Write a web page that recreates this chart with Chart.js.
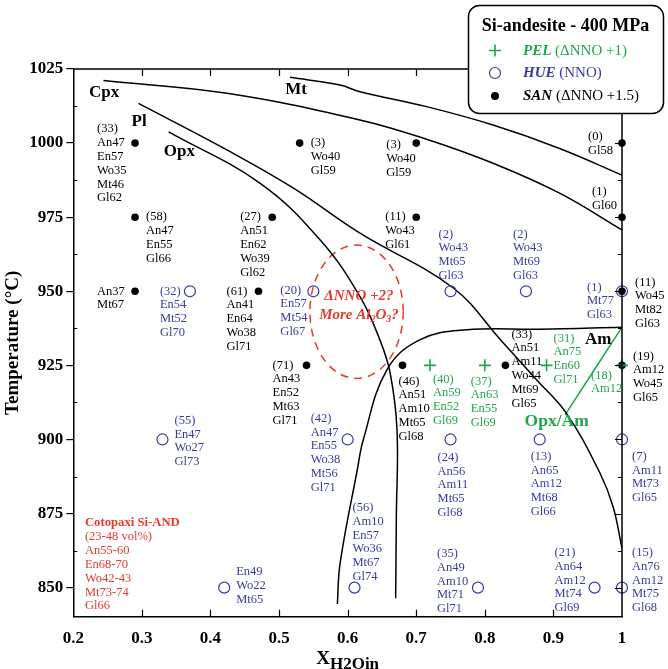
<!DOCTYPE html>
<html><head><meta charset="utf-8">
<script src="https://cdn.jsdelivr.net/npm/chart.js@4.4.1/dist/chart.umd.min.js"></script>
<style>html,body{margin:0;padding:0;background:#fff}canvas{display:block}</style>
</head><body>
<canvas id="c" width="668" height="669"></canvas>
<script>
// ---------------- data ----------------
const xTicks = [0.2, 0.3, 0.4, 0.5, 0.6, 0.7, 0.8, 0.9, 1.0];
const xTickLabels = ['0.2','0.3','0.4','0.5','0.6','0.7','0.8','0.9','1'];
const yTicks = [850, 875, 900, 925, 950, 975, 1000, 1025];
const yTickLabels = ['850','875','900','925','950','975','1000','1025'];
const yMinorTicks = [862.5, 887.5, 912.5, 937.5, 962.5, 987.5, 1012.5];

// SAN (ΔNNO +1.5) – filled dots
const sanX = [0.29, 0.29, 0.29, 0.53, 0.70, 0.49, 0.70, 0.47, 0.54, 0.68, 0.83, 1.0, 1.0, 1.0, 1.0];
const sanT = [1000, 975, 950, 1000, 1000, 975, 975, 950, 925, 925, 925, 1000, 975, 950, 925];
const sanText = [
  ['(33)','An47','En57','Wo35','Mt46','Gl62'],
  ['(58)','An47','En55','Gl66'],
  ['An37','Mt67'],
  ['(3)','Wo40','Gl59'],
  ['(3)','Wo40','Gl59'],
  ['(27)','An51','En62','Wo39','Gl62'],
  ['(11)','Wo43','Gl61'],
  ['(61)','An41','En64','Wo38','Gl71'],
  ['(71)','An43','En52','Mt63','Gl71'],
  ['(46)','An51','Am10','Mt65','Gl68'],
  ['(33)','An51','Am11','Wo44','Mt69','Gl65'],
  ['(0)','Gl58'],
  ['(1)','Gl60'],
  ['(11)','Wo45','Mt82','Gl63'],
  ['(19)','Am12','Wo45','Gl65']
];

// HUE (NNO) – open circles
const hueX = [0.37, 0.55, 0.33, 0.60, 0.75, 0.86, 1.0, 0.75, 0.88, 1.0, 0.61, 0.79, 0.42, 0.96, 1.0];
const hueT = [950, 950, 900, 900, 950, 950, 950, 900, 900, 900, 850, 850, 850, 850, 850];
const hueText = [
  ['(32)','En54','Mt52','Gl70'],
  ['(20)','En57','Mt54','Gl67'],
  ['(55)','En47','Wo27','Gl73'],
  ['(42)','An47','En55','Wo38','Mt56','Gl71'],
  ['(2)','Wo43','Mt65','Gl63'],
  ['(2)','Wo43','Mt69','Gl63'],
  ['(1)','Mt77','Gl63'],
  ['(24)','An56','Am11','Mt65','Gl68'],
  ['(13)','An65','Am12','Mt68','Gl66'],
  ['(7)','Am11','Mt73','Gl65'],
  ['(56)','Am10','En57','Wo36','Mt67','Gl74'],
  ['(35)','An49','Am10','Mt71','Gl71'],
  ['En49','Wo22','Mt65'],
  ['(21)','An64','Am12','Mt74','Gl69'],
  ['(15)','An76','Am12','Mt75','Gl68']
];

// PEL (ΔNNO +1) – plus signs
const pelX = [0.72, 0.80, 0.89, 1.0];
const pelT = [925, 925, 925, 925];
const pelText = [
  ['(40)','An59','En52','Gl69'],
  ['(37)','An63','En55','Gl69'],
  ['(31)','An75','En60','Gl71'],
  ['(18)','Am12']
];

// phase boundary curves
const mtX  = [0.516, 0.589, 0.618, 0.715, 0.812, 0.909, 1.0];
const mtT  = [1022.2, 1019.6, 1017.3, 1012.3, 1006.1, 998.2, 989.2];
const cpxX = [0.244, 0.424, 0.618, 0.715, 0.812, 0.909, 1.0];
const cpxT = [1021.1, 1016.8, 1007.8, 1001.3, 993.2, 983.1, 970.7];
const plX  = [0.295, 0.424, 0.521, 0.618, 0.754, 0.823, 0.876, 0.919, 0.968, 0.987, 1.0];
const plT  = [1013.4, 997.7, 984.8, 969.6, 951.1, 933.6, 920.0, 908.8, 888.6, 877.3, 863.3];
const opxX = [0.339, 0.472, 0.560, 0.618, 0.647, 0.662, 0.672, 0.671, 0.670];
const opxT = [1003.8, 986.5, 967.3, 948.2, 933.6, 922.4, 903.2, 874.0, 846.4];
const amX  = [0.585, 0.589, 0.614, 0.623, 0.657, 0.705, 0.774, 0.880, 1.0];
const amT  = [844.5, 858.2, 889.7, 900.1, 923.4, 933.6, 937.0, 937.2, 937.9];
const opxAmX = [1.0, 0.917];
const opxAmT = [937.9, 908.3];

// phase field labels
const phaseText = ['Cpx', 'Pl', 'Opx', 'Mt', 'Am'];
const phaseX    = [0.223, 0.285, 0.332, 0.509, 0.946];
const phaseT    = [1017.1, 1007.2, 997.1, 1018.2, 933.6];

// red ellipse (uncertain field)
const ellipseCenter = [0.613, 943.1];
const ellipseRadius = [0.068, 22.5];

const cotopaxiText = ['Cotopaxi Si-AND', '(23-48 vol%)', 'An55-60', 'En68-70', 'Wo42-43', 'Mt73-74', 'Gl66'];

// ---------------- layout / style (separate from data) ----------------
const sanPlace = [[-38,-14],[11,0],[-38,0],[11,0],[-30,2],[-32,0],[-31,0],[-32,0],[-34,0],[-4,16],[6,-31],[-34,-6],[-30,-25],[13,-9],[11,-9]];
const huePlace = [[-30,0],[-33,-1],[12,-19],[-37,-21],[-12,-57],[-13,-57],[-35,-4],[-13,18],[-9,17],[10,17],[-2,-80],[-41,-34],[12,-16],[-40,-35],[10,-35]];
const pelPlace = [[3,14],[-14,16],[7,-27],[-31,10]];

const BLUE = '#3b3b9f', GREEN = '#1fa64a', RED = '#e83a2e', BLACK = '#000';
const SERIF = '"Liberation Serif", "Times New Roman", serif';
const LH = 13.8;

const pts = (xs, ys) => xs.map((x, i) => ({x, y: ys[i]}));
const tickLabel = (vals, labels) => (v) => { const i = vals.findIndex(t => Math.abs(t - v) < 1e-6); return i >= 0 ? labels[i] : ''; };

function drawRuns(ctx, x, y, runs) {
  let cx = x;
  runs.forEach(r => {
    ctx.font = r.font; ctx.fillStyle = r.color;
    ctx.fillText(r.text, cx, y + (r.dy || 0));
    cx += ctx.measureText(r.text).width;
  });
  return cx - x;
}
function runsWidth(ctx, runs) {
  let w = 0;
  runs.forEach(r => { ctx.font = r.font; w += ctx.measureText(r.text).width; });
  return w;
}

const decor = {
  id: 'decor',
  beforeDatasetsDraw(chart) {
    const {ctx, scales: {x, y}} = chart;
    const cx = x.getPixelForValue(ellipseCenter[0]), cy = y.getPixelForValue(ellipseCenter[1]);
    const rx = x.getPixelForValue(ellipseCenter[0] + ellipseRadius[0]) - cx;
    const ry = cy - y.getPixelForValue(ellipseCenter[1] + ellipseRadius[1]);
    ctx.save();
    ctx.strokeStyle = RED; ctx.lineWidth = 1.5; ctx.setLineDash([8, 6]);
    ctx.beginPath(); ctx.ellipse(cx, cy, rx, ry, 0, 0, Math.PI * 2); ctx.stroke();
    ctx.restore();
  },
  afterDatasetsDraw(chart) {
    const {ctx, chartArea: a, scales: {x, y}} = chart;
    ctx.save();
    // frame top & right
    ctx.strokeStyle = BLACK; ctx.lineWidth = 1.5;
    ctx.beginPath();
    ctx.moveTo(a.left, a.top); ctx.lineTo(a.right, a.top); ctx.lineTo(a.right, a.bottom);
    ctx.stroke();
    // inward ticks
    ctx.lineWidth = 1.2;
    ctx.beginPath();
    xTicks.slice(1, -1).forEach(v => {
      const px = Math.round(x.getPixelForValue(v)) + 0.5;
      ctx.moveTo(px, a.bottom); ctx.lineTo(px, a.bottom - 7);
      ctx.moveTo(px, a.top); ctx.lineTo(px, a.top + 7);
    });
    yTicks.forEach(v => {
      const py = Math.round(y.getPixelForValue(v)) + 0.5;
      ctx.moveTo(a.right, py); ctx.lineTo(a.right - 7, py);
    });
    yMinorTicks.forEach(v => {
      const py = Math.round(y.getPixelForValue(v)) + 0.5;
      ctx.moveTo(a.right, py); ctx.lineTo(a.right - 4, py);
      ctx.moveTo(a.left, py); ctx.lineTo(a.left + 4, py);
    });
    ctx.stroke();

    // point labels
    ctx.textBaseline = 'middle'; ctx.textAlign = 'left';
    const lab = (xs, ts, texts, place, color) => {
      ctx.font = '12.5px ' + SERIF; ctx.fillStyle = color;
      xs.forEach((xv, i) => {
        const px = x.getPixelForValue(xv), py = y.getPixelForValue(ts[i]);
        texts[i].forEach((t, k) => ctx.fillText(t, px + place[i][0], py + place[i][1] + k * LH));
      });
    };
    lab(sanX, sanT, sanText, sanPlace, BLACK);
    lab(hueX, hueT, hueText, huePlace, BLUE);
    lab(pelX, pelT, pelText, pelPlace, GREEN);

    // phase labels
    ctx.font = 'bold 17px ' + SERIF; ctx.fillStyle = BLACK;
    phaseText.forEach((t, i) => ctx.fillText(t, x.getPixelForValue(phaseX[i]), y.getPixelForValue(phaseT[i])));
    ctx.font = 'bold 17.5px ' + SERIF; ctx.fillStyle = GREEN;
    ctx.fillText('Opx/Am', x.getPixelForValue(0.858), y.getPixelForValue(906.0));

    // ellipse text
    const bi = 'italic bold 15px ' + SERIF, bis = 'italic bold 10px ' + SERIF;
    const ex = x.getPixelForValue(0.6165);
    const r1 = [{text: 'ΔNNO +2?', font: bi, color: RED}];
    const r2 = [{text: 'More Al', font: bi, color: RED}, {text: '2', font: bis, color: RED, dy: 4},
                {text: 'O', font: bi, color: RED}, {text: '3', font: bis, color: RED, dy: 4},
                {text: '?', font: bi, color: RED}];
    drawRuns(ctx, ex - runsWidth(ctx, r1) / 2, y.getPixelForValue(948.2), r1);
    drawRuns(ctx, ex - runsWidth(ctx, r2) / 2, y.getPixelForValue(942.0), r2);

    // Cotopaxi text
    ctx.fillStyle = RED;
    cotopaxiText.forEach((t, k) => {
      ctx.font = (k === 0 ? 'bold 12.7px ' : '12.5px ') + SERIF;
      ctx.fillText(t, x.getPixelForValue(0.217), y.getPixelForValue(871.9) + k * 13.9);
    });

    // x-axis title  X_H2Oin
    ctx.textBaseline = 'alphabetic';
    const xr = [{text: 'X', font: 'bold 19px ' + SERIF, color: BLACK},
                {text: 'H2Oin', font: 'bold 17px ' + SERIF, color: BLACK, dy: 5}];
    const xc = (a.left + a.right) / 2;
    drawRuns(ctx, xc - runsWidth(ctx, xr) / 2, 663.5, xr);

    // legend box
    const L = 468.5, T = 5.5, W = 195, H = 108, R = 11;
    ctx.beginPath();
    ctx.moveTo(L + R, T); ctx.lineTo(L + W - R, T); ctx.arcTo(L + W, T, L + W, T + R, R);
    ctx.lineTo(L + W, T + H - R); ctx.arcTo(L + W, T + H, L + W - R, T + H, R);
    ctx.lineTo(L + R, T + H); ctx.arcTo(L, T + H, L, T + H - R, R);
    ctx.lineTo(L, T + R); ctx.arcTo(L, T, L + R, T, R); ctx.closePath();
    ctx.fillStyle = '#fff'; ctx.fill();
    ctx.strokeStyle = BLACK; ctx.lineWidth = 1.5; ctx.stroke();
    ctx.textBaseline = 'middle'; ctx.textAlign = 'center';
    ctx.font = 'bold 18px ' + SERIF; ctx.fillStyle = BLACK;
    ctx.fillText('Si-andesite - 400 MPa', 565.5, 26);
    ctx.textAlign = 'left';
    ctx.strokeStyle = GREEN; ctx.lineWidth = 1.6;
    ctx.beginPath(); ctx.moveTo(489, 50.5); ctx.lineTo(501, 50.5); ctx.moveTo(495, 44.5); ctx.lineTo(495, 56.5); ctx.stroke();
    ctx.strokeStyle = BLUE; ctx.lineWidth = 1.2;
    ctx.beginPath(); ctx.arc(495, 73, 5.5, 0, Math.PI * 2); ctx.stroke();
    ctx.fillStyle = BLACK;
    ctx.beginPath(); ctx.arc(495, 96, 4, 0, Math.PI * 2); ctx.fill();
    const lb = 'italic bold 15px ' + SERIF, lr = '15px ' + SERIF;
    drawRuns(ctx, 523, 51, [{text: 'PEL', font: lb, color: GREEN}, {text: ' (ΔNNO +1)', font: lr, color: GREEN}]);
    drawRuns(ctx, 523, 73.5, [{text: 'HUE', font: lb, color: BLUE}, {text: ' (NNO)', font: lr, color: BLUE}]);
    drawRuns(ctx, 523, 96.5, [{text: 'SAN', font: lb, color: BLACK}, {text: ' (ΔNNO +1.5)', font: lr, color: BLACK}]);
    ctx.restore();
  }
};

const curve = (xs, ys, color) => ({
  type: 'scatter', data: pts(xs, ys), showLine: true, borderColor: color, borderWidth: 1.5,
  pointRadius: 0, tension: 0.4, fill: false, clip: false, order: 10
});

new Chart(document.getElementById('c'), {
  type: 'scatter',
  data: {
    datasets: [
      {label: 'SAN', data: pts(sanX, sanT), pointStyle: 'circle', pointRadius: 3.8,
       backgroundColor: BLACK, borderColor: BLACK, borderWidth: 0, clip: false, order: 1},
      {label: 'HUE', data: pts(hueX, hueT), pointStyle: 'circle', pointRadius: 5.5,
       backgroundColor: 'rgba(0,0,0,0)', borderColor: BLUE, borderWidth: 1.2, clip: false, order: 2},
      {label: 'PEL', data: pts(pelX, pelT), pointStyle: 'cross', pointRadius: 6,
       borderColor: GREEN, backgroundColor: GREEN, borderWidth: 1.6, clip: false, order: 0},
      curve(mtX, mtT, BLACK), curve(cpxX, cpxT, BLACK), curve(plX, plT, BLACK),
      curve(opxX, opxT, BLACK), curve(amX, amT, BLACK), curve(opxAmX, opxAmT, GREEN)
    ]
  },
  options: {
    responsive: false, animation: false, events: [],
    layout: {padding: {top: 69, right: 46, left: 0, bottom: 0}},
    plugins: {legend: {display: false}, tooltip: {enabled: false}},
    scales: {
      x: {
        type: 'linear', min: 0.2, max: 1.0,
        afterBuildTicks: s => { s.ticks = xTicks.map(v => ({value: v})); },
        afterFit: s => { s.height = 52.3; },
        grid: {display: false, drawTicks: false},
        border: {display: true, color: BLACK, width: 1.5},
        ticks: {callback: tickLabel(xTicks, xTickLabels),
                font: {family: SERIF, size: 17, weight: 'bold'}, color: BLACK, padding: 12, maxRotation: 0, autoSkip: false}
      },
      y: {
        type: 'linear', min: 840.2, max: 1025,
        afterBuildTicks: s => { s.ticks = yTicks.map(v => ({value: v})); },
        afterFit: s => { s.width = 73.3; },
        grid: {display: true, drawOnChartArea: false, drawTicks: true, tickLength: 7, color: BLACK, lineWidth: 1.2},
        border: {display: true, color: BLACK, width: 1.5},
        ticks: {callback: tickLabel(yTicks, yTickLabels),
                font: {family: SERIF, size: 17, weight: 'bold'}, color: BLACK, padding: 3, autoSkip: false},
        title: {display: true, text: 'Temperature (°C)', font: {family: SERIF, size: 19, weight: 'bold'}, color: BLACK,
                padding: {top: 2, bottom: 0}}
      }
    }
  },
  plugins: [decor]
});
</script>
</body></html>
